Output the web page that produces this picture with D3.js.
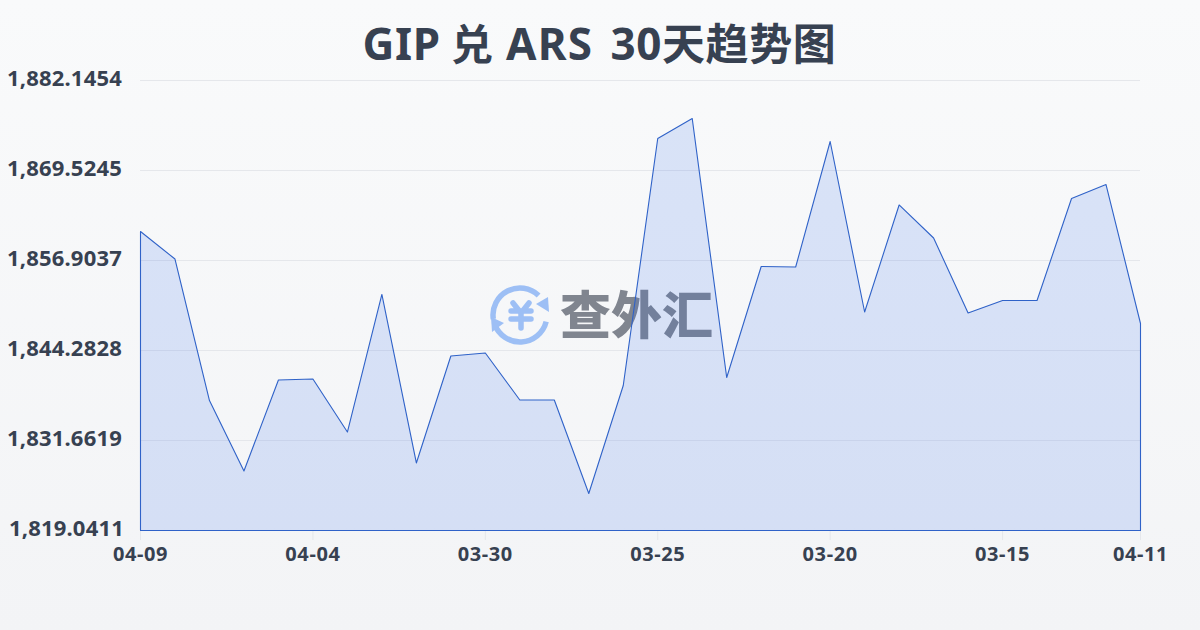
<!DOCTYPE html>
<html><head><meta charset="utf-8">
<script src="https://cdn.jsdelivr.net/npm/d3@7/dist/d3.min.js"></script>
<style>html,body{margin:0;padding:0;background:#f5f6f8}svg{display:block}</style>
</head><body><svg id="c" width="1200" height="630"></svg>
<script>
const titleParts = ["GIP","兑","ARS","30","天趋势图"];
const categories = ["04-09","04-08","04-07","04-06","04-05","04-04","04-03","04-02","04-01","03-31","03-30","03-29","03-28","03-27","03-26","03-25","03-24","03-23","03-22","03-21","03-20","03-19","03-18","03-17","03-16","03-15","03-14","03-13","03-12","04-11"];
const values = [1860.97,1857.11,1837.27,1827.39,1840.15,1840.29,1832.85,1852.14,1828.51,1843.51,1843.93,1837.34,1837.34,1824.23,1839.38,1874.01,1876.82,1840.50,1856.06,1855.99,1873.59,1849.68,1864.69,1860.06,1849.54,1851.29,1851.29,1865.60,1867.56,1848.07];
const yTicks = [1819.0411,1831.6619,1844.2828,1856.9037,1869.5245,1882.1454];
const xTicks = ["04-09","04-04","03-30","03-25","03-20","03-15","04-11"];
const font = "'Noto Sans','Noto Sans CJK SC',sans-serif";
const ink = "#374151";

const svg = d3.select("#c").style("font-family", font);
const defs = svg.append("defs");
const bg = defs.append("linearGradient").attr("id","bg").attr("x1",0).attr("y1",0).attr("x2",0).attr("y2",1);
bg.append("stop").attr("offset",0).attr("stop-color","#f9fafb");
bg.append("stop").attr("offset",1).attr("stop-color","#f3f4f6");
svg.append("rect").attr("width",1200).attr("height",630).attr("fill","url(#bg)");

const x = d3.scalePoint().domain(d3.range(categories.length)).range([140.5,1140.5]);
const y = d3.scaleLinear().domain([yTicks[0],yTicks[5]]).range([530.5,80.5]);

// title: one text element, segments placed to match the reference's mixed-script spacing
const titleEl = svg.append("text").attr("y",60).attr("font-weight",700).attr("fill",ink);
const titleX = [362.5,451,506,610.5,662];
const titleSize = [44,42,44,44,43];
titleEl.selectAll("tspan").data(titleParts).join("tspan")
  .attr("x",(d,i)=>titleX[i]).attr("font-size",(d,i)=>titleSize[i])
  .attr("letter-spacing",(d,i)=>(i===2?1.2:0.6)).text(d=>d);

// grid
svg.append("g").selectAll("line").data(yTicks.slice(1)).join("line")
  .attr("x1",140).attr("x2",1140).attr("y1",d=>y(d)).attr("y2",d=>y(d))
  .attr("stroke","#e5e7eb").attr("stroke-width",1);

// watermark
const wm = svg.append("g");
const logo = wm.append("g").attr("transform","translate(520,315)");
const lc = "#9dbff5";
const ring = d3.arc().innerRadius(27).outerRadius(27);
logo.append("path").attr("fill","none").attr("stroke",lc).attr("stroke-width",5.5).attr("stroke-linecap","round")
  .attr("d",ring({startAngle:-1.72,endAngle:0.76}));
logo.append("path").attr("fill","none").attr("stroke",lc).attr("stroke-width",5.5).attr("stroke-linecap","round")
  .attr("d",ring({startAngle:1.82,endAngle:4.36}));
logo.append("path").attr("fill",lc).attr("d","M28,-18 L29,-3 L16,-11 Z");
logo.append("path").attr("fill",lc).attr("d","M-29,2 L-28,17 L-16,8 Z");
logo.append("path").attr("fill","none").attr("stroke",lc).attr("stroke-width",5.5).attr("stroke-linecap","round").attr("stroke-linejoin","round")
  .attr("d","M-7,-12 L1,-2 L9,-12 M1,-2 L1,13 M-9,-4 L11,-4 M-9,4 L11,4");
wm.append("text").attr("x",560).attr("y",334).attr("font-size",51).attr("font-weight",900)
  .attr("font-family","'Noto Sans CJK SC',sans-serif").attr("fill","#80858f").text("查外汇");

// area + line
const area = d3.area().x((d,i)=>x(i)).y0(y(yTicks[0])).y1(d=>y(d));
svg.append("path").datum(values).attr("d",area).attr("fill","#2563eb").attr("fill-opacity",0.15)
  .attr("stroke","#2f62c8").attr("stroke-width",1.1).attr("stroke-linejoin","round");

// x ticks
const xg = svg.append("g");
xTicks.forEach(t=>{
  const i = categories.indexOf(t);
  xg.append("line").attr("x1",x(i)).attr("x2",x(i)).attr("y1",531).attr("y2",540).attr("stroke","#e5e7eb");
  xg.append("text").attr("x",x(i)).attr("y",561).attr("text-anchor","middle")
    .attr("font-size",20).attr("font-weight",700).attr("letter-spacing",0.6).attr("fill",ink).text(t);
});
// y labels
const fmt = d3.format(",.4f");
svg.append("g").selectAll("text").data(yTicks).join("text")
  .attr("x",(d,i)=>i===0?124:122).attr("y",d=>y(d)+5.5).attr("text-anchor","end")
  .attr("font-size",22).attr("font-weight",700).attr("letter-spacing",0.2).attr("fill",ink).text(fmt);
</script></body></html>
